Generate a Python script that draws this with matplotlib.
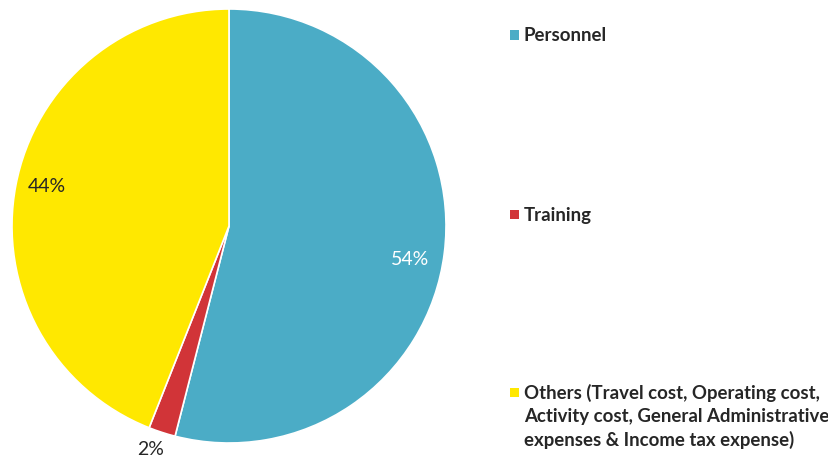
import numpy as np
import matplotlib.pyplot as plt
from matplotlib.patches import Rectangle

# DATOS
categorias = ["Personnel", "Training",
              "Others (Travel cost, Operating cost,\nActivity cost, General Administrative\nexpenses & Income tax expense)"]
valores = [54, 2, 44]
colores = ["#4BACC6", "#D13438", "#FFE800"]
color_texto = ["white", "#262626", "#262626"]

plt.rcParams['font.family'] = ['Lato', 'DejaVu Sans']

fig = plt.figure(figsize=(8.29, 4.59), dpi=100)
ax = fig.add_axes([12 / 829, 16 / 459, 434 / 829, 434 / 459])

wedges, textos, autotextos = ax.pie(
    valores,
    colors=colores,
    startangle=90,
    counterclock=False,
    autopct="%1.0f%%",
    pctdistance=0.85,
    wedgeprops=dict(edgecolor="white", linewidth=1.2),
    textprops=dict(fontsize=14),
)
ax.set_aspect("equal")
ax.set_xlim(-1, 1)
ax.set_ylim(-1, 1)

# ETIQUETAS
for t, c in zip(autotextos, color_texto):
    t.set_color(c)

# pequeños ajustes de posicion (distancia y giro respecto al centro de la porcion)
distancias = [0.85, 1.09, 0.86]
giros = [-3.4, -1.4, -1.5]
for w, t, d, g in zip(wedges, autotextos, distancias, giros):
    ang = np.deg2rad((w.theta1 + w.theta2) / 2 + g)
    t.set_position((d * np.cos(ang), d * np.sin(ang)))

# LEYENDA MANUAL
filas_y = [35, 215, 392]
for cat, col, fy in zip(categorias, colores, filas_y):
    yf = 1 - fy / 459
    fig.patches.append(Rectangle((510 / 829, yf - 4.5 / 459), 9 / 829, 9 / 459,
                                 transform=fig.transFigure, facecolor=col,
                                 edgecolor="none"))
    fig.text(524 / 829, yf + 8 / 459, cat, fontsize=13.4, fontweight="bold",
             color="#262626", va="top", ha="left", linespacing=1.42)

fig.savefig("out.png", dpi=100)
